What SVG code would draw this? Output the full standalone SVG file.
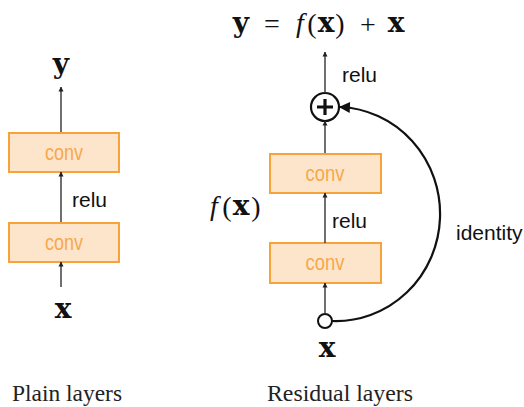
<svg xmlns="http://www.w3.org/2000/svg" width="524" height="407" viewBox="0 0 524 407">
<defs>
<style>
.box{fill:#fde5cc;stroke:#f7a33a;stroke-width:2}
.conv{font-family:"Liberation Sans",Arial,sans-serif;font-size:22px;fill:#f6a84c;text-anchor:middle}
.lbl{font-family:"Liberation Sans",Arial,sans-serif;font-size:21px;fill:#111}
.mb{font-family:"DejaVu Serif",serif;font-weight:bold;font-size:28px;fill:#111;text-anchor:middle}
.mr{font-family:"Liberation Serif","Times New Roman",serif;font-size:28px;fill:#111;text-anchor:middle}
.mi{font-family:"Liberation Serif","Times New Roman",serif;font-style:italic;font-size:28px;fill:#111;text-anchor:middle}
.cap{font-family:"Liberation Serif","Times New Roman",serif;font-size:24px;fill:#222}
.wire{stroke:#333;stroke-width:1.4;fill:none;marker-end:url(#ah)}
</style>
<marker id="ah" viewBox="0 0 10 10" refX="9" refY="5" markerWidth="5" markerHeight="6" orient="auto" markerUnits="userSpaceOnUse">
<path d="M0,0 L10,5 L0,10 z" fill="#222"/>
</marker>
<marker id="big" viewBox="0 0 10 10" refX="9" refY="5" markerWidth="13" markerHeight="11" orient="auto" markerUnits="userSpaceOnUse">
<path d="M0,0 L10,5 L0,10 z" fill="#111"/>
</marker>
</defs>
<rect width="524" height="407" fill="#fff"/>

<g id="plain-y"><text class="mb" x="61" y="73">y</text></g>
<g id="plain-conv1"><rect class="box" x="9" y="133" width="110" height="39"/><text class="conv" x="64" y="160" textLength="38" lengthAdjust="spacingAndGlyphs">conv</text></g>
<g id="plain-conv2"><rect class="box" x="9" y="223" width="110" height="39"/><text class="conv" x="64" y="250" textLength="38" lengthAdjust="spacingAndGlyphs">conv</text></g>
<g id="plain-x"><text class="mb" x="63" y="318">x</text></g>
<g id="plain-relu"><text class="lbl" x="72" y="207">relu</text></g>
<g id="plain-caption"><text class="cap" x="12" y="401" textLength="110" lengthAdjust="spacingAndGlyphs">Plain layers</text></g>

<g id="res-eq">
<text class="mb" x="241" y="32" font-size="25">y</text>
<text class="mr" x="272" y="33" font-size="36">=</text>
<text class="mi" x="300" y="32">f</text>
<text class="mr" x="312" y="33">(</text>
<text class="mb" x="326" y="32" font-size="25">x</text>
<text class="mr" x="340" y="33">)</text>
<text class="mr" x="368" y="34" font-size="36">+</text>
<text class="mb" x="396" y="32" font-size="25">x</text>
</g>
<g id="res-relu-top"><text class="lbl" x="342" y="82">relu</text></g>
<g id="res-add"><circle cx="325" cy="107" r="14" fill="#fff" stroke="#111" stroke-width="2.2"/><path d="M325,99 V115 M317,107 H333" stroke="#111" stroke-width="3.2"/></g>
<g id="res-conv1"><rect class="box" x="270" y="154" width="111" height="39"/><text class="conv" x="325" y="181" textLength="39" lengthAdjust="spacingAndGlyphs">conv</text></g>
<g id="res-conv2"><rect class="box" x="270" y="243" width="111" height="40"/><text class="conv" x="325" y="270" textLength="39" lengthAdjust="spacingAndGlyphs">conv</text></g>
<g id="res-relu"><text class="lbl" x="332" y="228">relu</text></g>
<g id="res-fx">
<text class="mi" x="214" y="215">f</text>
<text class="mr" x="227" y="216">(</text>
<text class="mb" x="241" y="215" font-size="26">x</text>
<text class="mr" x="256" y="216">)</text>
</g>
<g id="res-input"><circle cx="325" cy="321" r="7" fill="#fff" stroke="#111" stroke-width="2"/></g>
<g id="res-x"><text class="mb" x="327" y="357">x</text></g>
<g id="res-identity"><text class="lbl" x="456" y="240">identity</text></g>
<g id="res-caption"><text class="cap" x="267" y="401" textLength="146" lengthAdjust="spacingAndGlyphs">Residual layers</text></g>

<g id="connectors">
<line class="wire" x1="61" y1="132" x2="61" y2="87"/>
<line class="wire" x1="61" y1="222" x2="61" y2="172"/>
<line class="wire" x1="61" y1="287" x2="61" y2="262"/>
<line class="wire" x1="325" y1="93" x2="325" y2="52"/>
<line class="wire" x1="325" y1="153" x2="325" y2="121"/>
<line class="wire" x1="325" y1="243" x2="325" y2="193"/>
<line class="wire" x1="325" y1="314" x2="325" y2="283"/>
<path d="M332,321 A104 107 0 0 0 340,107" fill="none" stroke="#111" stroke-width="2.2" marker-end="url(#big)"/>
</g>
</svg>
